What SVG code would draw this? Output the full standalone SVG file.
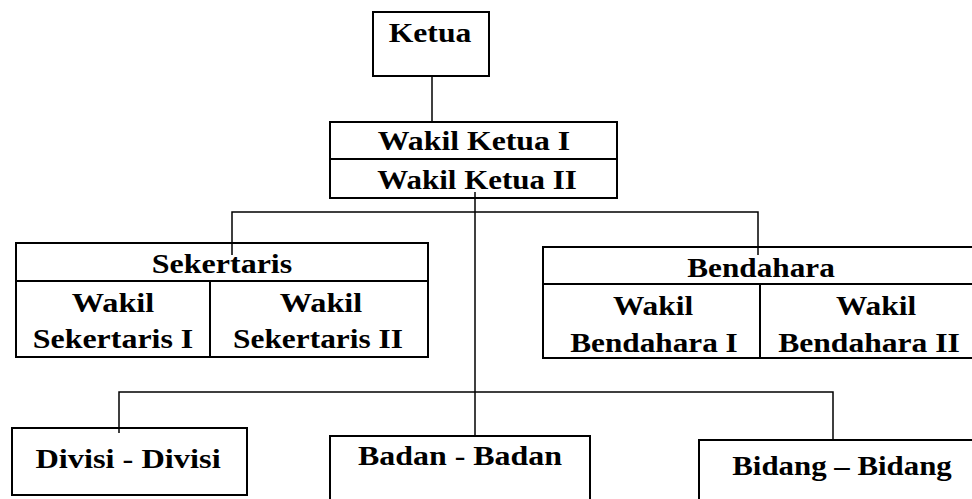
<svg xmlns="http://www.w3.org/2000/svg" width="972" height="499" viewBox="0 0 972 499">
<style>
.box{fill:#fff;stroke:#000;stroke-width:2}
.div{stroke:#000;stroke-width:2;fill:none}
.con{stroke:#000;stroke-width:1.5;fill:none}
.t{font-family:'Liberation Serif','Times New Roman',serif;font-weight:700;font-size:27px;fill:#000;text-anchor:middle}
</style>
<rect width="972" height="499" fill="#fff"/>
<g id="ketua">
<rect class="box" x="373" y="12" width="116" height="64"/>
<text class="t" transform="matrix(1.18 0 0 1 430 42)" textLength="70" lengthAdjust="spacingAndGlyphs">Ketua</text>
</g>
<g id="wakil-ketua">
<rect class="box" x="330" y="122" width="287" height="76"/>
<line class="div" x1="330" y1="159" x2="617" y2="159"/>
<text class="t" transform="matrix(1.18 0 0 1 474 150)" textLength="163" lengthAdjust="spacingAndGlyphs">Wakil Ketua I</text>
<text class="t" transform="matrix(1.18 0 0 1 477 189)" textLength="169" lengthAdjust="spacingAndGlyphs">Wakil Ketua II</text>
</g>
<g id="sekertaris">
<rect class="box" x="16" y="243" width="412" height="114"/>
<line class="div" x1="16" y1="281" x2="428" y2="281"/>
<line class="div" x1="210" y1="281" x2="210" y2="357"/>
<text class="t" transform="matrix(1.18 0 0 1 222 273)" textLength="119" lengthAdjust="spacingAndGlyphs">Sekertaris</text>
<text class="t" transform="matrix(1.18 0 0 1 113 312)" textLength="70" lengthAdjust="spacingAndGlyphs">Wakil</text>
<text class="t" transform="matrix(1.18 0 0 1 113 348)" textLength="136" lengthAdjust="spacingAndGlyphs">Sekertaris I</text>
<text class="t" transform="matrix(1.18 0 0 1 321 312)" textLength="70" lengthAdjust="spacingAndGlyphs">Wakil</text>
<text class="t" transform="matrix(1.18 0 0 1 318 348)" textLength="144" lengthAdjust="spacingAndGlyphs">Sekertaris II</text>
</g>
<g id="bendahara">
<rect class="box" x="543" y="247" width="440" height="111"/>
<line class="div" x1="543" y1="284" x2="983" y2="284"/>
<line class="div" x1="760" y1="284" x2="760" y2="358"/>
<text class="t" transform="matrix(1.18 0 0 1 761 277)" textLength="125" lengthAdjust="spacingAndGlyphs">Bendahara</text>
<text class="t" transform="matrix(1.18 0 0 1 653 315)" textLength="68" lengthAdjust="spacingAndGlyphs">Wakil</text>
<text class="t" transform="matrix(1.18 0 0 1 654 352)" textLength="142" lengthAdjust="spacingAndGlyphs">Bendahara I</text>
<text class="t" transform="matrix(1.18 0 0 1 876 315)" textLength="68" lengthAdjust="spacingAndGlyphs">Wakil</text>
<text class="t" transform="matrix(1.18 0 0 1 869 352)" textLength="154" lengthAdjust="spacingAndGlyphs">Bendahara II</text>
</g>
<g id="divisi">
<rect class="box" x="12" y="428" width="235" height="67"/>
<text class="t" transform="matrix(1.18 0 0 1 128 468)" textLength="157" lengthAdjust="spacingAndGlyphs">Divisi - Divisi</text>
</g>
<g id="badan">
<rect class="box" x="330" y="436" width="260" height="80"/>
<text class="t" transform="matrix(1.18 0 0 1 460 465)" textLength="173" lengthAdjust="spacingAndGlyphs">Badan - Badan</text>
</g>
<g id="bidang">
<rect class="box" x="699" y="440" width="290" height="80"/>
<text class="t" transform="matrix(1.18 0 0 1 842 475)" textLength="186" lengthAdjust="spacingAndGlyphs">Bidang – Bidang</text>
</g>
<g id="connectors">
<line class="con" x1="432" y1="76" x2="432" y2="122"/>
<line class="con" x1="475" y1="192" x2="475" y2="436"/>
<polyline class="con" points="232,255 232,212 758,212 758,255"/>
<polyline class="con" points="119,433 119,392 833,392 833,440"/>
</g>
</svg>
